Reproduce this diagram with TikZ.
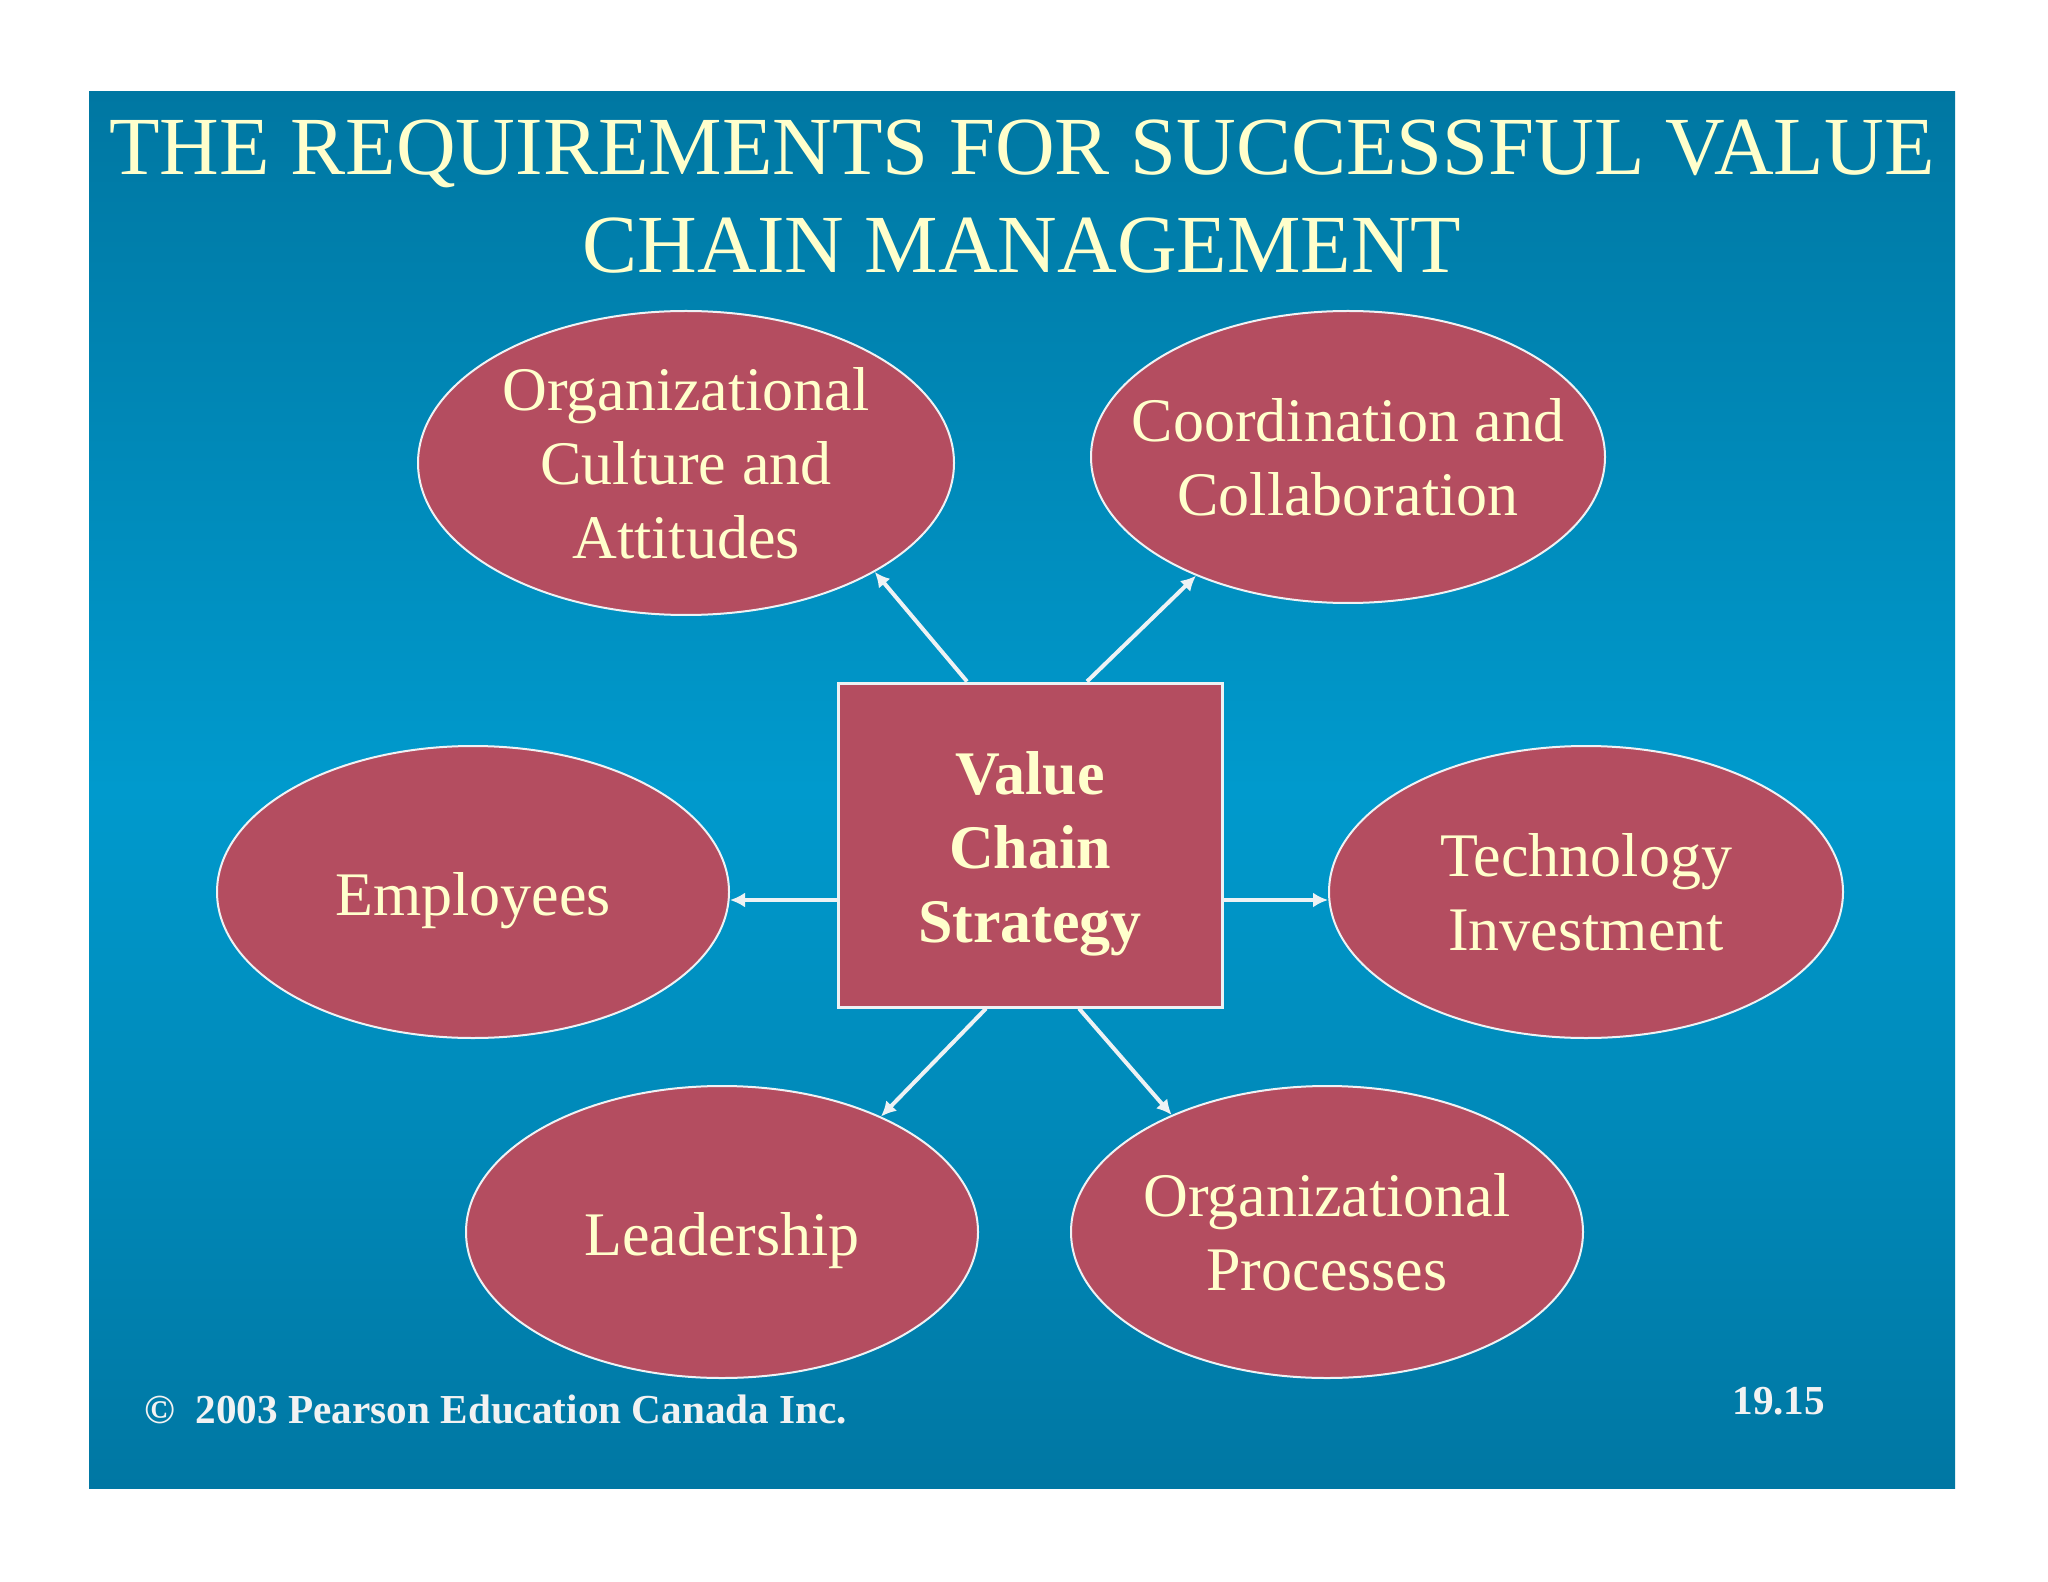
\documentclass[tikz,border=0pt]{standalone}
\usepackage{fontspec}
\setmainfont{Liberation Serif}
\usetikzlibrary{arrows.meta,shapes.geometric}
\definecolor{cream}{HTML}{FFFFCC}
\definecolor{rose}{HTML}{B44D60}
\definecolor{panelA}{HTML}{0077A2}
\definecolor{panelB}{HTML}{009ACD}
\definecolor{panelC}{HTML}{0077A3}
\definecolor{edge}{HTML}{EEF2F4}
\definecolor{foot}{HTML}{F2F2F2}
\newcommand\firststrut{\rule{0pt}{30pt}}
\begin{document}
\begin{tikzpicture}[x=0.5pt,y=-0.5pt,
  oval/.style={ellipse, draw=edge, line width=1pt, fill=rose, text=cream,
    minimum width=256pt, minimum height=146pt, inner xsep=-20pt, inner ysep=0pt,
    align=center, font=\fontsize{31}{37}\selectfont},
  centerbox/.style={rectangle, draw=edge, line width=1.5pt, fill=rose, text=cream,
    minimum width=192pt, minimum height=162pt, inner sep=0pt, align=center,
    font=\bfseries\fontsize{31}{37}\selectfont},
  titletext/.style={text=cream, inner sep=0pt, anchor=base,
    font=\fontsize{41.3}{49}\selectfont},
  foottext/.style={text=foot, inner sep=0pt, anchor=base west,
    font=\bfseries\fontsize{20.6}{24}\selectfont},
  arr/.style={draw=edge, line width=2pt, -{Latex[length=7.5pt,width=7.5pt]}}
]
\useasboundingbox (0,0) rectangle (2048,1582);
\fill[white] (0,0) rectangle (2048,1582);
\shade[top color=panelA, bottom color=panelC, middle color=panelB] (89,92) rectangle (1955,1488);

\node[titletext] (t1) at (1022,175) {THE REQUIREMENTS FOR SUCCESSFUL VALUE};
\node[titletext] (t2) at (1022,273) {CHAIN MANAGEMENT};

\node[centerbox] (box) at (1030,845) {\firststrut Value\\Chain\\Strategy};

\node[oval, minimum width=268pt, minimum height=152pt] (oc) at (686,463) {Organizational\\Culture and\\Attitudes};
\node[oval, minimum width=257pt] (co) at (1348,457) {Coordination and\\Collaboration};
\node[oval] (emp) at (473,892) {\firststrut Employees};
\node[oval, minimum width=257pt] (tech) at (1586,892) {Technology\\Investment};
\node[oval] (lead) at (722,1232) {\firststrut Leadership};
\node[oval] (proc) at (1327,1232) {Organizational\\Processes};

\draw[arr] ([xshift=-31.5pt]box.north) -- (oc.-30.6);
\draw[arr] ([xshift=28.5pt]box.north) -- (co.-142.9);
\draw[arr] ([yshift=-27.5pt]box.west) -- ([yshift=-27.5pt]box.west -| emp.east);
\draw[arr] ([yshift=-27.5pt]box.east) -- ([yshift=-27.5pt]box.east -| tech.west);
\draw[arr] ([xshift=-22pt]box.south) -- (lead.36.4);
\draw[arr] ([xshift=24.5pt]box.south) -- (proc.143.4);

\node[foottext] (copy) at (144,1423) {©\ \ 2003 Pearson Education Canada Inc.};
\node[foottext] (num) at (1732,1414) {19.15};
\end{tikzpicture}
\end{document}
